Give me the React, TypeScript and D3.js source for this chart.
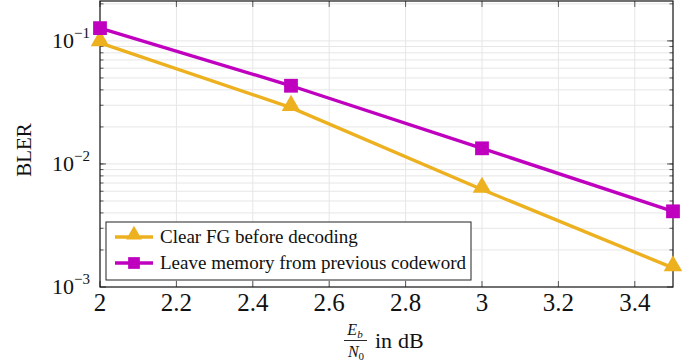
import { useRef, useEffect } from 'react';
import * as d3 from 'd3';

const snr = [2, 2.5, 3, 3.5];
const clearFG = [0.0964, 0.0287, 0.0062, 0.00143];
const leaveMemory = [0.127, 0.0432, 0.0134, 0.00412];
const xTicks = [2, 2.2, 2.4, 2.6, 2.8, 3, 3.2, 3.4];
const yTicks = [1e-3, 1e-2, 1e-1];
const yExponents = ['−3', '−2', '−1'];
const seriesNames = ['Clear FG before decoding', 'Leave memory from previous codeword'];

export default function App() {
  const svgRef = useRef<SVGSVGElement>(null);

  useEffect(() => {
    if (!svgRef.current) return;
    const svg = d3.select(svgRef.current);
    svg.selectAll('*').remove();

    const width = 697;
    const height = 364;
    const left = 100, right = 673, top = 1, bottom = 287;
    const font = "'Liberation Serif', 'Times New Roman', serif";
    const yellow = '#edb120';
    const magenta = '#bf00bf';

    svg.attr('width', width).attr('height', height);

    const x = d3.scaleLinear().domain([2, 3.5]).range([left, right]);
    const y = d3.scaleLog().domain([1e-3, 0.211]).range([bottom, top]);

    // grid
    const minor: number[] = [];
    for (let e = -3; e <= -1; e++) {
      for (let m = 1; m <= 9; m++) {
        const v = m * Math.pow(10, e);
        if (v > 1e-3 && v < 0.211) minor.push(v);
      }
    }
    const grid = svg.append('g');
    grid.selectAll('line.ym')
      .data(minor)
      .enter()
      .append('line')
      .attr('x1', left).attr('x2', right)
      .attr('y1', (d) => y(d)).attr('y2', (d) => y(d))
      .attr('stroke', '#e6e6e6').attr('stroke-width', 1);
    grid.selectAll('line.xg')
      .data(xTicks.slice(1))
      .enter()
      .append('line')
      .attr('x1', (d) => x(d)).attr('x2', (d) => x(d))
      .attr('y1', top).attr('y2', bottom)
      .attr('stroke', '#e6e6e6').attr('stroke-width', 1);

    // ticks (inside, all four sides)
    const ticks = svg.append('g').attr('stroke', '#555').attr('stroke-width', 1);
    xTicks.forEach((t) => {
      ticks.append('line').attr('x1', x(t)).attr('x2', x(t)).attr('y1', bottom).attr('y2', bottom - 6);
      ticks.append('line').attr('x1', x(t)).attr('x2', x(t)).attr('y1', top).attr('y2', top + 6);
    });
    yTicks.forEach((t) => {
      ticks.append('line').attr('x1', left).attr('x2', left + 6).attr('y1', y(t)).attr('y2', y(t));
      ticks.append('line').attr('x1', right).attr('x2', right - 6).attr('y1', y(t)).attr('y2', y(t));
    });
    minor.forEach((t) => {
      ticks.append('line').attr('x1', left).attr('x2', left + 3.5).attr('y1', y(t)).attr('y2', y(t));
      ticks.append('line').attr('x1', right).attr('x2', right - 3.5).attr('y1', y(t)).attr('y2', y(t));
    });

    // axis box
    svg.append('rect')
      .attr('x', left).attr('y', top)
      .attr('width', right - left).attr('height', bottom - top)
      .attr('fill', 'none').attr('stroke', '#111').attr('stroke-width', 1.2);

    // tick labels
    svg.append('g')
      .selectAll('text')
      .data(xTicks)
      .enter()
      .append('text')
      .attr('x', (d) => x(d))
      .attr('y', 311)
      .attr('text-anchor', 'middle')
      .attr('font-family', font)
      .attr('font-size', 25)
      .attr('fill', '#111')
      .text((d) => d3.format('~g')(d));

    yTicks.forEach((t, i) => {
      const txt = svg.append('text')
        .attr('x', left - 10)
        .attr('y', y(t) + 7)
        .attr('text-anchor', 'end')
        .attr('font-family', font)
        .attr('font-size', 22)
        .attr('fill', '#111');
      txt.append('tspan').text('10');
      txt.append('tspan').attr('dy', -10).attr('font-size', 15).text(yExponents[i]);
    });

    // axis labels
    svg.append('text')
      .attr('transform', `translate(31,150) rotate(-90)`)
      .attr('text-anchor', 'middle')
      .attr('font-family', font)
      .attr('font-size', 21)
      .attr('fill', '#111')
      .text('BLER');

    const xl = svg.append('g').attr('font-family', font).attr('fill', '#111');
    const num = xl.append('text').attr('x', 355).attr('y', 335).attr('text-anchor', 'middle').attr('font-size', 16).attr('font-style', 'italic');
    num.append('tspan').text('E');
    num.append('tspan').attr('font-size', 11).attr('dy', 3).text('b');
    xl.append('line').attr('x1', 344).attr('x2', 367).attr('y1', 340.5).attr('y2', 340.5).attr('stroke', '#111').attr('stroke-width', 0.9);
    const den = xl.append('text').attr('x', 356).attr('y', 357).attr('text-anchor', 'middle').attr('font-size', 16).attr('font-style', 'italic');
    den.append('tspan').text('N');
    den.append('tspan').attr('font-size', 11).attr('dy', 3).attr('font-style', 'normal').text('0');
    xl.append('text').attr('x', 375).attr('y', 348).attr('font-size', 22).text('in');
    xl.append('text').attr('x', 398).attr('y', 348).attr('font-size', 22).text('dB');

    // series
    const line = d3.line<[number, number]>().x((d) => x(d[0])).y((d) => y(d[1]));
    const triangle = d3.symbol().type(d3.symbolTriangle).size(150);
    const square = d3.symbol().type(d3.symbolSquare).size(190);

    const series = [
      { values: clearFG, color: yellow, mark: triangle, dy: -2 },
      { values: leaveMemory, color: magenta, mark: square, dy: 0 },
    ];

    series.forEach((s) => {
      const pts: [number, number][] = snr.map((v, i) => [v, s.values[i]]);
      svg.append('path')
        .datum(pts)
        .attr('fill', 'none')
        .attr('stroke', s.color)
        .attr('stroke-width', 3.4)
        .attr('d', line);
      svg.append('g')
        .selectAll('path')
        .data(pts)
        .enter()
        .append('path')
        .attr('transform', (d) => `translate(${x(d[0])},${y(d[1]) + s.dy})`)
        .attr('d', s.mark() as string)
        .attr('fill', s.color);
    });

    // legend
    const lg = svg.append('g').attr('transform', 'translate(106,222)');
    lg.append('rect')
      .attr('width', 365).attr('height', 58)
      .attr('fill', 'white').attr('stroke', '#222').attr('stroke-width', 1);
    series.forEach((s, i) => {
      const cy = 15 + i * 26;
      lg.append('line')
        .attr('x1', 9).attr('x2', 47).attr('y1', cy).attr('y2', cy)
        .attr('stroke', s.color).attr('stroke-width', 3.4);
      lg.append('path')
        .attr('transform', `translate(28,${cy + s.dy}) scale(0.85)`)
        .attr('d', s.mark() as string)
        .attr('fill', s.color);
      lg.append('text')
        .attr('x', 54).attr('y', cy + 6)
        .attr('font-family', font)
        .attr('font-size', 19)
        .attr('fill', '#111')
        .text(seriesNames[i]);
    });
  }, []);

  return (
    <div style={{ position: 'absolute', left: 0, top: 0 }}>
      <svg ref={svgRef} style={{ display: 'block', background: 'white' }} />
    </div>
  );
}
